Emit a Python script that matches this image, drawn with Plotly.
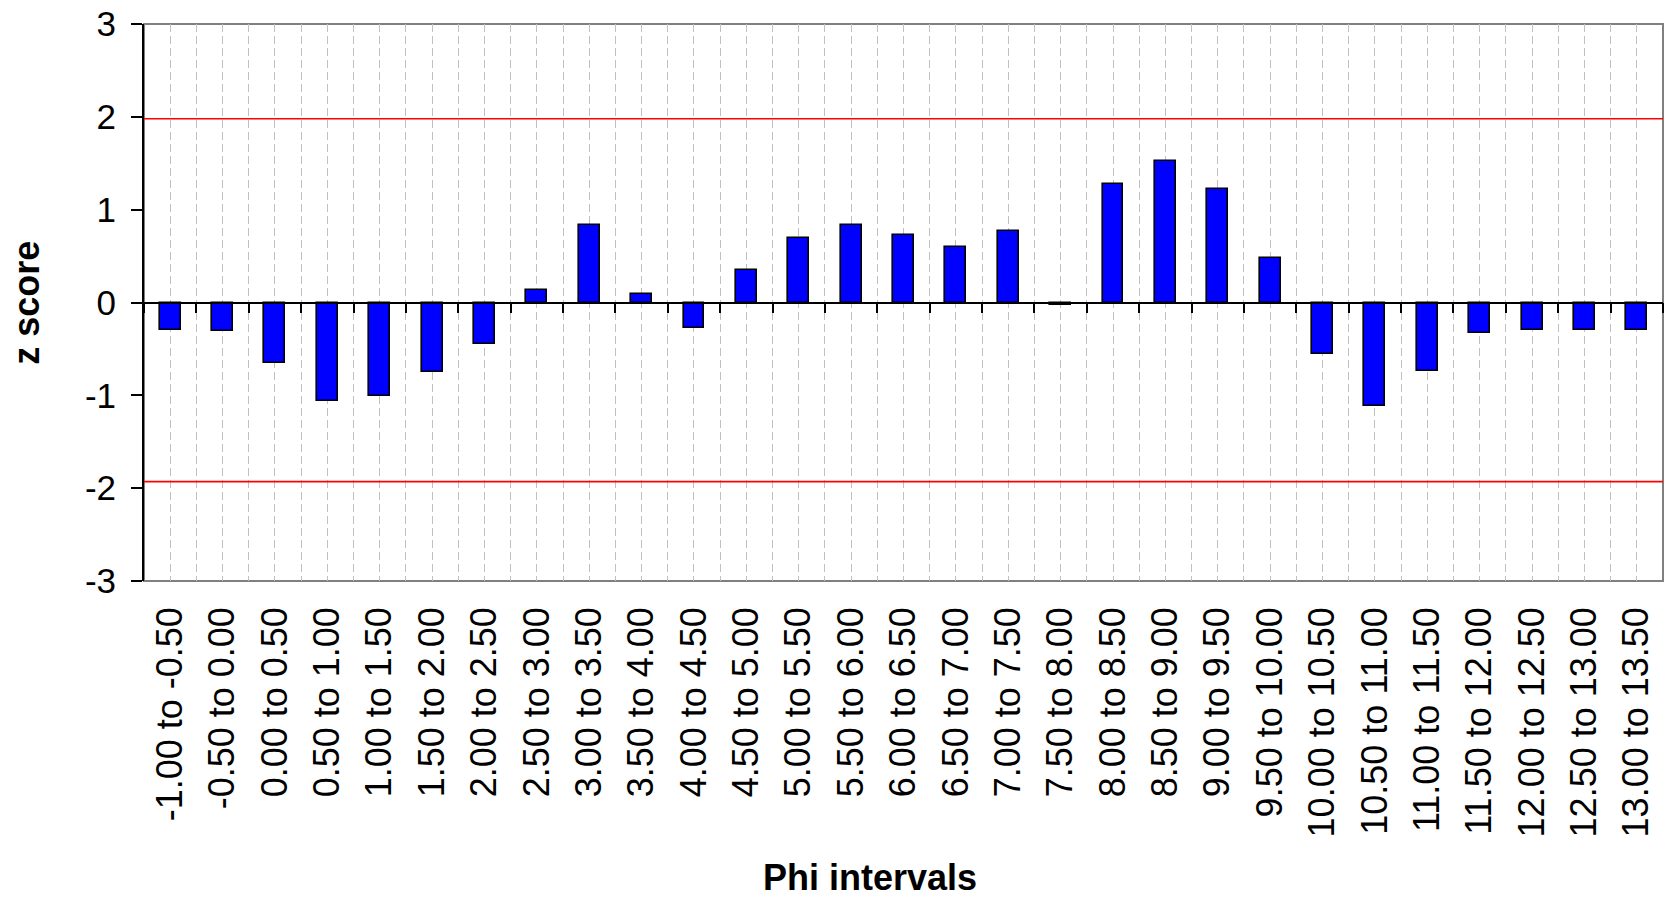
import plotly.graph_objects as go

# ---- data ----
categories = [
    "-1.00 to -0.50", "-0.50 to 0.00", "0.00 to 0.50", "0.50 to 1.00",
    "1.00 to 1.50", "1.50 to 2.00", "2.00 to 2.50", "2.50 to 3.00",
    "3.00 to 3.50", "3.50 to 4.00", "4.00 to 4.50", "4.50 to 5.00",
    "5.00 to 5.50", "5.50 to 6.00", "6.00 to 6.50", "6.50 to 7.00",
    "7.00 to 7.50", "7.50 to 8.00", "8.00 to 8.50", "8.50 to 9.00",
    "9.00 to 9.50", "9.50 to 10.00", "10.00 to 10.50", "10.50 to 11.00",
    "11.00 to 11.50", "11.50 to 12.00", "12.00 to 12.50", "12.50 to 13.00",
    "13.00 to 13.50",
]
z_scores = [
    -0.30, -0.31, -0.65, -1.06, -1.01, -0.75, -0.45, 0.13, 0.84, 0.09,
    -0.28, 0.35, 0.70, 0.83, 0.73, 0.60, 0.77, -0.03, 1.28, 1.52,
    1.22, 0.48, -0.55, -1.12, -0.74, -0.33, -0.30, -0.30, -0.30,
]
upper_limit = 1.98
lower_limit = -1.93
y_ticks = [-3, -2, -1, 0, 1, 2, 3]
y_tick_labels = ["-3", "-2", "-1", "0", "1", "2", "3"]

# ---- figure ----
n = len(categories)
positions = list(range(n))
x_lo, x_hi = -0.5, n - 0.5
boundaries = [i + 0.5 for i in range(-1, n)]

FONT = "Liberation Sans, Arial, sans-serif"

fig = go.Figure()
fig.add_trace(go.Bar(
    x=positions, y=z_scores, width=0.4,
    marker=dict(color="#0000FF", line=dict(color="black", width=1.6)),
    showlegend=False, xaxis="x", yaxis="y",
))
for lim in (upper_limit, lower_limit):
    fig.add_trace(go.Scatter(
        x=[x_lo, x_hi], y=[lim, lim], mode="lines",
        line=dict(color="#FF0000", width=1.6),
        showlegend=False, hoverinfo="skip", xaxis="x2", yaxis="y",
        cliponaxis=False,
    ))

fig.update_layout(
    width=1665, height=899,
    margin=dict(l=144, r=2, t=24, b=318),
    paper_bgcolor="white", plot_bgcolor="white",
    font=dict(family=FONT, color="black"),
    bargap=0,
    xaxis=dict(
        range=[x_lo, x_hi],
        tickmode="array", tickvals=positions, ticktext=categories,
        tickangle=-90, ticks="", showline=False, zeroline=False,
        tickfont=dict(size=36, family=FONT, color="black"),
        ticklabelstandoff=18,
        showgrid=True, gridcolor="#c0c0c0", gridwidth=1, griddash="8px,4px",
        minor=dict(tickmode="array", tickvals=boundaries[1:-1], showgrid=True,
                   gridcolor="#c0c0c0", gridwidth=1, griddash="8px,4px",
                   ticks=""),
    ),
    xaxis2=dict(
        range=[x_lo, x_hi], overlaying="x", anchor="free", position=0.5,
        side="bottom",
        tickmode="array", tickvals=boundaries, ticks="outside", ticklen=10,
        tickwidth=1.5, tickcolor="black",
        showticklabels=False, showgrid=False, zeroline=False,
        showline=True, linecolor="black", linewidth=1.5,
    ),
    yaxis=dict(
        range=[-3, 3], tickmode="array", tickvals=y_ticks, ticktext=y_tick_labels,
        ticks="outside", ticklen=11, tickwidth=1.5, tickcolor="black",
        showline=True, linecolor="black", linewidth=2,
        showgrid=False, zeroline=False,
        tickfont=dict(size=35, family=FONT, color="black"),
        ticklabelstandoff=8,
    ),
    shapes=[dict(type="rect", xref="paper", yref="paper", x0=0, x1=1, y0=0, y1=1,
                 line=dict(color="#808080", width=2), layer="below")],
    annotations=[
        dict(text="<b>Phi intervals</b>", xref="paper", yref="paper",
             x=0.478, y=-0.533, xanchor="center", yanchor="middle",
             showarrow=False, font=dict(size=36, family=FONT, color="black")),
        dict(text="<b>z score</b>", xref="paper", yref="paper",
             x=-0.0775, y=0.5, xanchor="center", yanchor="middle", textangle=-90,
             showarrow=False, font=dict(size=36, family=FONT, color="black")),
    ],
)

fig.write_html(
    "out.html",
    config={"displayModeBar": False},
    post_script="document.body.style.margin='0';document.body.style.overflow='hidden';",
)
